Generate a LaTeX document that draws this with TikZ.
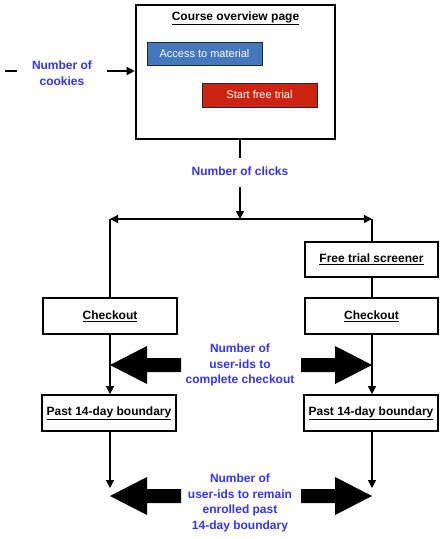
\documentclass[tikz,border=0pt]{standalone}
\usepackage{fontspec}
\setmainfont{Liberation Sans}
\usetikzlibrary{arrows.meta}
\definecolor{labelblue}{RGB}{51,51,255}
\definecolor{accessblue}{RGB}{68,119,187}
\definecolor{trialred}{RGB}{204,36,17}
\tikzset{
  stagebox/.style = {draw, line width=1.8pt, minimum width=134pt, minimum height=36pt,
                     inner sep=0pt, font=\fontsize{12}{14}\selectfont\bfseries},
  pagebtn/.style = {draw=black!85, line width=0.9pt, minimum width=115pt, minimum height=23pt,
                    inner sep=0pt, text=white, font=\fontsize{11}{13}\selectfont},
  measure/.style = {text=labelblue, align=center, inner sep=0pt,
                    font=\fontsize{12}{15.5}\selectfont\bfseries},
  flow/.style = {line width=1.4pt, -{Triangle[length=8pt,width=8pt]}},
  plain/.style = {line width=1.4pt}
}
\begin{document}
\begin{tikzpicture}[x=1pt, y=-1pt]
      \useasboundingbox (0,0) rectangle (444,539);
      % place nodes
      \node (page) [draw, line width=2.6pt, minimum width=199pt, minimum height=134pt] at (235.5,72) {};
      \node (title) [font=\fontsize{12}{14}\selectfont\bfseries] at (235.5,18) {\underline{Course overview page}};
      \node (access) [pagebtn, fill=accessblue] at (204.5,53.5) {Access to material};
      \node (trial) [pagebtn, fill=trialred, minimum height=24pt] at (259.5,95) {Start free trial};

      \node (cookies) [measure] at (62,73) {Number of\\cookies};
      \node (clicks) [measure] at (240,171) {Number of clicks};

      \node (screener) [stagebox, minimum width=133pt, minimum height=35pt] at (371.5,259.5) {\underline{Free trial screener}};
      \node (lcheck) [stagebox] at (110,316) {\underline{Checkout}};
      \node (rcheck) [stagebox, minimum width=133pt] at (371.5,316) {\underline{Checkout}};
      \node (lpast) [stagebox] at (109,413) {\underline{Past 14-day boundary}};
      \node (rpast) [stagebox] at (371,413) {\underline{Past 14-day boundary}};

      \node (complete) [measure] at (240,365) {Number of\\user-ids to\\complete checkout};
      \node (remain) [measure] at (240,503) {Number of\\user-ids to remain\\enrolled past\\14-day boundary};

      \coordinate (src) at (5,71);
      \coordinate (split) at (240,219);
      \coordinate (lsplit) at (110,219);
      \coordinate (rsplit) at (372,219);
      \coordinate (lend) at (110,488);
      \coordinate (rend) at (372,488);
      % draw edges
      \draw [plain] (src) -- (src -| 17,0);
      \draw [flow] (src -| 107,0) -- (src -| page.west);

      \draw [plain] (clicks.north |- page.south) -- ++(0,18);
      \draw [flow] (split) ++(0,-32) -- (split);
      \draw [flow] (split) -- (lsplit);
      \draw [flow] (split) -- (rsplit);

      \draw [plain] (lsplit) -- (lsplit |- lcheck.north);
      \draw [plain] (rsplit) -- (rsplit |- screener.north);
      \draw [plain] (rsplit |- screener.south) -- (rsplit |- rcheck.north);

      \draw [flow] (lsplit |- lcheck.south) -- (lsplit |- lpast.north);
      \draw [flow] (rsplit |- rcheck.south) -- (rsplit |- rpast.north);
      \draw [flow] (lsplit |- lpast.south) -- (lend);
      \draw [flow] (rsplit |- rpast.south) -- (rend);

      % block arrows
      \foreach \y in {365,496} {
        \fill (110,\y) -- ++(37,-19) -- ++(0,12) -- ++(34,0) -- ++(0,14) -- ++(-34,0) -- ++(0,12) -- cycle;
        \fill (372,\y) -- ++(-37,-19) -- ++(0,12) -- ++(-34,0) -- ++(0,14) -- ++(34,0) -- ++(0,12) -- cycle;
      }
    \end{tikzpicture}
\end{document}
